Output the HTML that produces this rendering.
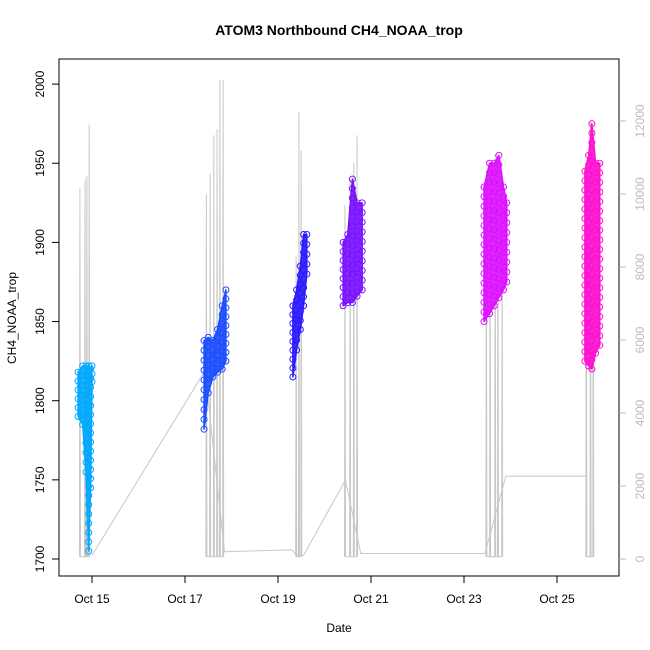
<!DOCTYPE html>
<html><head><meta charset="utf-8"><style>
body{margin:0;background:#fff}
svg{display:block;font-family:"Liberation Sans",sans-serif}
</style></head><body>
<svg id="chart" width="650" height="650"></svg>
<script>
// altitude (right axis) series
const flightSpikeDays = [[-0.26,-0.15,-0.11,-0.06],[2.46,2.54,2.62,2.69,2.75,2.82],[4.39,4.45,4.5],[5.44,5.55,5.63,5.7],[8.48,8.56,8.67,8.73,8.82],[10.63,10.72,10.78]];
const flightSpikeAlts = [[10160,10400,10500,11900],[10000,10550,11610,11780,13115,13115],[8290,12250,11190],[9700,10420,10850,11610],[10000,10850,11100,10420,9000],[10850,12000,10700]];
const baseDays = [0,2.43,2.85,4.3,4.4,4.55,5.45,5.78,8.45,8.9,10.62];
const baseAlts = [100,5160,200,250,100,100,2160,150,150,2270,2270];
// CH4 clusters (left axis)
const clusterDays = [[-0.3,-0.2,-0.13,-0.07,-0.03,0],[2.41,2.5,2.6,2.7,2.8,2.88],[4.32,4.4,4.48,4.55,4.62],[5.4,5.5,5.6,5.7,5.81],[8.43,8.55,8.65,8.75,8.85,8.92],[10.6,10.68,10.75,10.83,10.92]];
const clusterLo = [[1790,1785,1755,1705,1745,1812],[1782,1805,1815,1818,1820,1825],[1815,1832,1845,1860,1880],[1860,1862,1862,1866,1870],[1850,1855,1860,1865,1870,1875],[1825,1822,1820,1830,1835]];
const clusterHi = [[1818,1822,1822,1822,1820,1822],[1838,1840,1838,1845,1860,1870],[1860,1870,1885,1905,1905],[1900,1905,1940,1925,1925],[1935,1950,1950,1955,1935,1925],[1945,1955,1975,1950,1950]];
const clusterColors = ['#00a8ff','#1a4cff','#2a1aff','#7a10ff','#dc10ff','#ff10d0'];
const yTicks = [1700,1750,1800,1850,1900,1950,2000];
const altTicks = [0,2000,4000,6000,8000,10000,12000];
const xTickDays = [0,2,4,6,8,10];
const xTickLabels = ['Oct 15','Oct 17','Oct 19','Oct 21','Oct 23','Oct 25'];

const NS='http://www.w3.org/2000/svg';
const svg=document.getElementById('chart');
const X=d=>92+46.5*d;
const YL=v=>559-(v-1700)*1.583;
const YR=a=>559-a*0.0365;
function mk(tag,attrs,parent){const e=document.createElementNS(NS,tag);for(const k in attrs)e.setAttribute(k,attrs[k]);(parent||svg).appendChild(e);return e;}

const alt=mk('g',{});


for(let f=0;f<flightSpikeDays.length;f++){
  let p=[];
  const ds=flightSpikeDays[f],as=flightSpikeAlts[f];
  for(let i=0;i<ds.length;i++){p.push(X(ds[i]-0.01)+','+YR(60));p.push(X(ds[i])+','+YR(as[i]));p.push(X(ds[i]+0.012)+','+YR(60));}
  mk('polyline',{points:p.join(' '),fill:'none',stroke:'#c8c8c8','stroke-width':1},alt);
}
mk('polyline',{points:baseDays.map((d,i)=>X(d)+','+YR(baseAlts[i])).join(' '),fill:'none',stroke:'#c8c8c8','stroke-width':1},alt);

for(let c=0;c<clusterDays.length;c++){
  const g=mk('g',{});
  
  
  const ds=clusterDays[c],lo=clusterLo[c],hi=clusterHi[c],col=clusterColors[c];
  const poly=ds.map((d,i)=>X(d)+','+YL(hi[i])).concat(ds.map((d,i)=>X(d)+','+YL(lo[i])).reverse());
  mk('polygon',{points:poly.join(' '),fill:col,stroke:col,'stroke-width':1.5,'stroke-linejoin':'round','fill-opacity':0.9},g);
  for(let i=0;i<ds.length;i++){
    const n=Math.max(2,Math.round((hi[i]-lo[i])/6));
    for(let k=0;k<=n;k++){
      const v=lo[i]+(hi[i]-lo[i])*k/n;
      const pt=mk('circle',{cx:X(ds[i]),cy:YL(v),r:3,fill:'none',stroke:col,'stroke-width':1},g);
      
      
    }
  }
}

const fr=mk('rect',{x:59,y:59,width:560,height:517,fill:'none',stroke:'#000','stroke-width':1});



const la=mk('g',{});


mk('line',{x1:59,x2:59,y1:YL(1700),y2:YL(2000),stroke:'#000'},la);
yTicks.forEach(v=>{
  mk('line',{x1:52,x2:59,y1:YL(v),y2:YL(v),stroke:'#000'},la);
  const t=mk('text',{x:0,y:0,transform:`translate(44,${YL(v)}) rotate(-90)`,'text-anchor':'middle','font-size':12},la);
  t.textContent=v;
  
  
});
const ra=mk('g',{});


altTicks.forEach(a=>{
  mk('line',{x1:619,x2:626,y1:YR(a),y2:YR(a),stroke:'#bbb'},ra);
  const t=mk('text',{x:0,y:0,transform:`translate(644,${YR(a)}) rotate(-90)`,'text-anchor':'middle','font-size':12,fill:'#bbb'},ra);
  t.textContent=a;
  
  
});
const xa=mk('g',{});


mk('line',{x1:X(0),x2:X(10),y1:576,y2:576,stroke:'#000'},xa);
xTickDays.forEach((d,i)=>{
  mk('line',{x1:X(d),x2:X(d),y1:576,y2:583,stroke:'#000'},xa);
  const t=mk('text',{x:X(d),y:603,'text-anchor':'middle','font-size':12},xa);
  t.textContent=xTickLabels[i];
  
  
});
let t=mk('text',{x:339,y:35,'text-anchor':'middle','font-size':14,'font-weight':'bold'});
t.textContent='ATOM3 Northbound CH4_NOAA_trop';


t=mk('text',{x:339,y:632,'text-anchor':'middle','font-size':12});
t.textContent='Date';


t=mk('text',{x:0,y:0,transform:'translate(16,318) rotate(-90)','text-anchor':'middle','font-size':12});
t.textContent='CH4_NOAA_trop';


</script>
</body></html>
